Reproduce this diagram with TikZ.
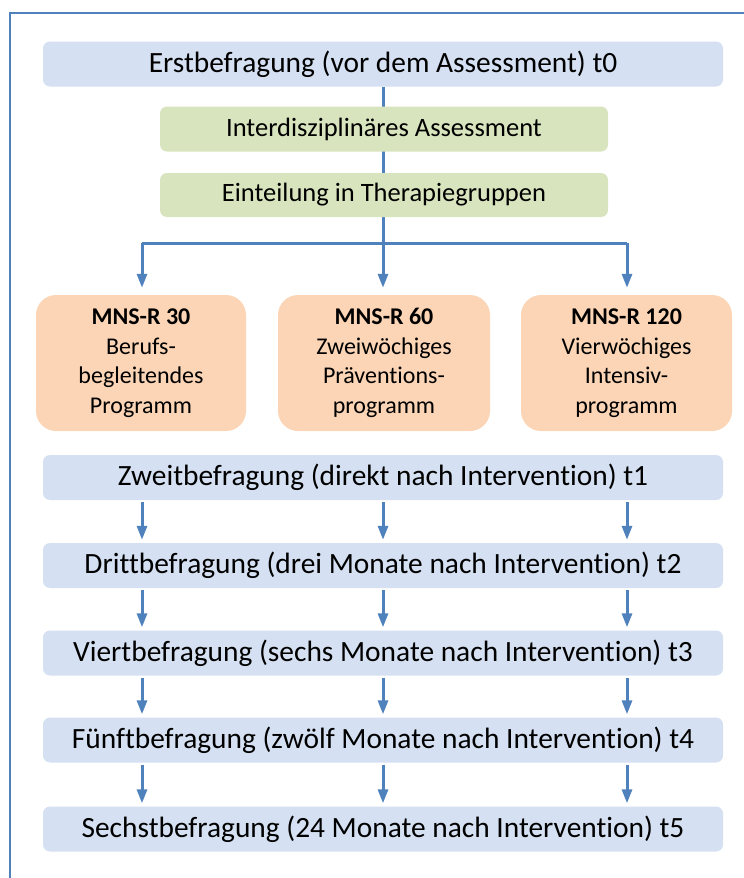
\documentclass[tikz,border=0pt]{standalone}
\usepackage{fontspec}
\setmainfont{Carlito}[Ligatures={NoCommon,NoContextual}]
\usetikzlibrary{arrows.meta,backgrounds}
\definecolor{frameblue}{HTML}{4F81BD}
\definecolor{boxblue}{HTML}{D5E1F2}
\definecolor{boxgreen}{HTML}{D8E4BD}
\definecolor{boxorange}{HTML}{FBD5B5}
\tikzset{
  base/.style={rounded corners=7pt, inner sep=0pt, align=center, text=black},
  bluebox/.style={base, fill=boxblue, minimum width=680pt, minimum height=45pt, font=\fontsize{29.4}{34}\selectfont},
  greenbox/.style={base, fill=boxgreen, minimum width=448pt, minimum height=45pt, font=\fontsize{26.5}{30}\selectfont},
  orangebox/.style={base, rounded corners=20pt, fill=boxorange, minimum height=136pt, font=\fontsize{24}{29.5}\selectfont},
  conn/.style={draw=frameblue, line width=3pt},
  arr/.style={conn, -{Triangle[length=14pt,width=10pt]}},
}
\begin{document}
\begin{tikzpicture}[x=1pt,y=-1pt]
\useasboundingbox (0,0) rectangle (744,878);
\begin{scope}
\clip (0,0) rectangle (744,878);
\draw[frameblue, line width=2.2pt] (10,13) rectangle (780,920);
\end{scope}
\node[bluebox] (t0) at (383,64) {Erstbefragung (vor dem Assessment) t0};
\node[greenbox] (g1) at (384,129) {Interdisziplinäres Assessment};
\node[greenbox, minimum height=44pt] (g2) at (384,195) {Einteilung in Therapiegruppen};
\coordinate (j) at (383,243);
\coordinate (jl) at (142,243);
\coordinate (jr) at (627,243);
\node[orangebox, minimum width=210pt] (o1) at (141,363) {\textbf{MNS-R 30}\\Berufs-\\begleitendes\\Programm};
\node[orangebox, minimum width=212pt] (o2) at (384,363) {\textbf{MNS-R 60}\\Zweiwöchiges\\Präventions-\\programm};
\node[orangebox, minimum width=211pt] (o3) at (626.5,363) {\textbf{MNS-R 120}\\Vierwöchiges\\Intensiv-\\programm};
\node[bluebox] (t1) at (383,477.5) {Zweitbefragung (direkt nach Intervention) t1};
\node[bluebox] (t2) at (383,565.5) {Drittbefragung (drei Monate nach Intervention) t2};
\node[bluebox] (t3) at (383,653) {Viertbefragung (sechs Monate nach Intervention) t3};
\node[bluebox] (t4) at (383,740) {Fünftbefragung (zwölf Monate nach Intervention) t4};
\node[bluebox] (t5) at (383,829) {Sechstbefragung (24 Monate nach Intervention) t5};
\begin{scope}[on background layer]
\draw[conn] (t0.south) -- (j);
\end{scope}
\draw[conn] (jl) -- (jr);
\draw[arr, shorten >=7pt] (jl) -- (jl |- o1.north);
\draw[arr, shorten >=7pt] (j) -- (j |- o2.north);
\draw[arr, shorten >=7pt] (jr) -- (jr |- o3.north);
\foreach \a/\b in {t1/t2,t2/t3,t3/t4,t4/t5}{
  \foreach \x in {142,383,627}{
    \draw[arr, shorten <=2pt, shorten >=3pt] (\x,0 |- \a.south) -- (\x,0 |- \b.north);
  }
}
\end{tikzpicture}
\end{document}
